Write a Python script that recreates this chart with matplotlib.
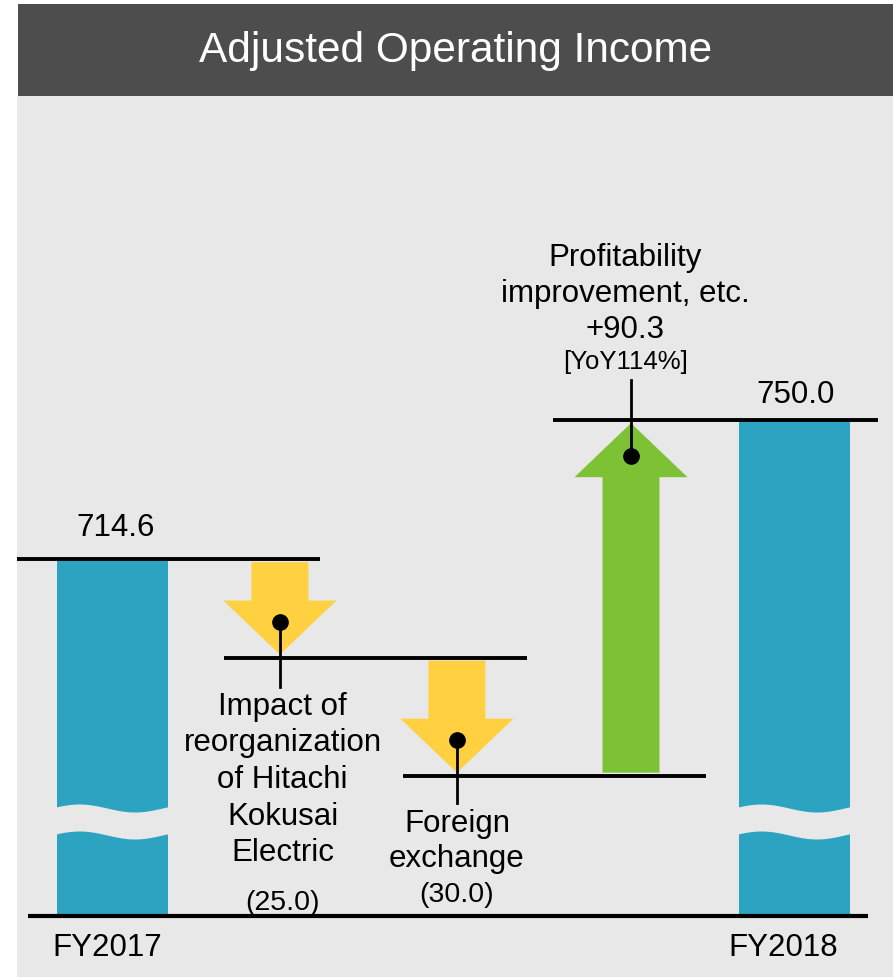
import matplotlib
matplotlib.use("Agg")
import matplotlib.pyplot as plt
import numpy as np
from matplotlib.patches import Polygon, Rectangle

plt.rcParams['font.family'] = ['Liberation Sans', 'DejaVu Sans']

# ---------------- data ----------------
title = "Adjusted Operating Income"
start_label = "FY2017"
end_label = "FY2018"
start_value = 714.6
end_value = 750.0
step_labels = ["Impact of\nreorganization\nof Hitachi\nKokusai\nElectric",
               "Foreign\nexchange",
               "Profitability\nimprovement, etc."]
step_values = [-25.0, -30.0, 90.3]
step_value_texts = ["(25.0)", "(30.0)", "+90.3"]
yoy_text = "[YoY114%]"

# ---------------- style ----------------
BLUE = "#2CA3C0"
YELLOW = "#FFD03F"
GREEN = "#7DC235"
PANEL = "#E8E8E8"
BANNER = "#4D4D4D"

W, H = 893, 977
fig = plt.figure(figsize=(W / 100, H / 100), dpi=100)
fig.patch.set_facecolor("white")

# banner
fig.patches.append(Rectangle((18 / W, 1 - 96 / H), 1 - 18 / W, 92 / H,
                             transform=fig.transFigure, facecolor=BANNER,
                             edgecolor="none", zorder=0))
fig.text((18 + W) / 2 / W, 1 - 51 / H, title, color="white", fontsize=30.5,
         ha="center", va="center")

# chart axes (panel)
ax = fig.add_axes([17 / W, 0, 1 - 17 / W, 1 - 96 / H])
ax.set_facecolor(PANEL)
for s in ax.spines.values():
    s.set_visible(False)
ax.set_xticks([])
ax.set_yticks([])

# scale: pixels per value unit (layout)
PPU = 3.937
ymid_val, ymid_px = 703.4, 603.25
def v_of_px(p):
    return ymid_val - (p - ymid_px) / PPU
ax.set_ylim(v_of_px(977), v_of_px(96))
XPX = 170.5
ax.set_xlim((17 - 112.5) / XPX, (893 - 112.5) / XPX)

base = v_of_px(916)
xc = [0.0, 0.982, 2.02, 3.041, 4.0]
bar_w = 0.651
shaft_w = 0.334
head_w = 0.663
head_len = 54 / PPU
dot_off = 36 / PPU

# cumulative levels
levels = [start_value]
for d in step_values:
    levels.append(levels[-1] + d)

# total bars
for x, v in [(xc[0], start_value), (xc[4], end_value)]:
    ax.bar(x, v - base, bottom=base, width=bar_w, color=BLUE, zorder=2)
    # break band
    pad = 0.02
    xs = np.linspace(x - bar_w / 2 - pad, x + bar_w / 2 + pad, 100)
    t = (xs - (x - bar_w / 2)) / bar_w
    wave = 4.0 * np.sin(2 * np.pi * (t + 0.05))
    top = v_of_px(808) + wave / PPU
    ax.fill_between(xs, top - 27 / PPU, top, color=PANEL, lw=0, zorder=3)

# level lines
line_ext = [(-0.56, 1.217), (0.654, 2.431), (1.704, 3.481), (2.581, 4.49)]
line_vals = [start_value, levels[1], levels[2], end_value]
for (x0, x1), v in zip(line_ext, line_vals):
    ax.plot([x0, x1], [v, v], color="black", lw=2.8, solid_capstyle="butt", zorder=4)
ax.plot([-0.496, 4.431], [base, base], color="black", lw=3.0,
        solid_capstyle="butt", zorder=4)

# arrows
colors = [YELLOW, YELLOW, GREEN]
for i, d in enumerate(step_values):
    x = xc[i + 1]
    v0 = levels[i]
    v1 = levels[i + 1]
    sgn = np.sign(d)
    tip = v1 - sgn * 3 / PPU
    v0s = v0 + sgn * 3 / PPU
    hb = tip - sgn * head_len
    poly = [(x - shaft_w / 2, v0s), (x + shaft_w / 2, v0s),
            (x + shaft_w / 2, hb), (x + head_w / 2, hb), (x, tip),
            (x - head_w / 2, hb), (x - shaft_w / 2, hb)]
    ax.add_patch(Polygon(poly, closed=True, facecolor=colors[i],
                         edgecolor="none", zorder=3))
    dot_v = v1 - sgn * dot_off
    ax.plot([x], [dot_v], marker="o", ms=11, color="black", zorder=6)

# connectors
ax.plot([xc[1], xc[1]], [levels[1] + dot_off, levels[1] - 29 / PPU],
        color="black", lw=2, zorder=5)
ax.plot([xc[2], xc[2]], [levels[2] + dot_off, levels[2] - 27 / PPU],
        color="black", lw=2, zorder=5)
ax.plot([xc[3], xc[3]], [end_value - dot_off, end_value + 40 / PPU],
        color="black", lw=2, zorder=5)

FS = 22.5
# value labels of totals
ax.annotate(f"{start_value:.1f}", (xc[0], start_value), xytext=(2, 31 / 1.389),
            textcoords="offset points", ha="center", va="center", fontsize=FS)
ax.annotate(f"{end_value:.1f}", (xc[4], end_value), xytext=(1, 25 / 1.389),
            textcoords="offset points", ha="center", va="center", fontsize=FS)

# step labels
ax.annotate(step_labels[0], (xc[1], levels[1]), xytext=(2, -34 / 1.389),
            textcoords="offset points", ha="center", va="top", fontsize=FS,
            linespacing=1.29)
ax.annotate(step_value_texts[0], (xc[1], levels[1]), xytext=(2, -245 / 1.389),
            textcoords="offset points", ha="center", va="center", fontsize=20.5)
ax.annotate(step_labels[1], (xc[2], levels[2]), xytext=(0, -33 / 1.389),
            textcoords="offset points", ha="center", va="top", fontsize=FS,
            linespacing=1.25)
ax.annotate(step_value_texts[1], (xc[2], levels[2]), xytext=(0, -119 / 1.389),
            textcoords="offset points", ha="center", va="center", fontsize=20.5)
ax.annotate(step_labels[2] + "\n" + step_value_texts[2], (xc[3], end_value),
            xytext=(-4, 75 / 1.389), textcoords="offset points", ha="center",
            va="bottom", fontsize=FS, linespacing=1.25)
ax.annotate(yoy_text, (xc[3], end_value), xytext=(-4, 58 / 1.389),
            textcoords="offset points", ha="center", va="center", fontsize=18.5)

# category labels
ax.annotate(start_label, (xc[0], base), xytext=(-4, -32 / 1.389),
            textcoords="offset points", ha="center", va="center", fontsize=FS)
ax.annotate(end_label, (xc[4], base), xytext=(-8, -32 / 1.389),
            textcoords="offset points", ha="center", va="center", fontsize=FS)

fig.savefig("out.png", dpi=100, facecolor=fig.get_facecolor())
